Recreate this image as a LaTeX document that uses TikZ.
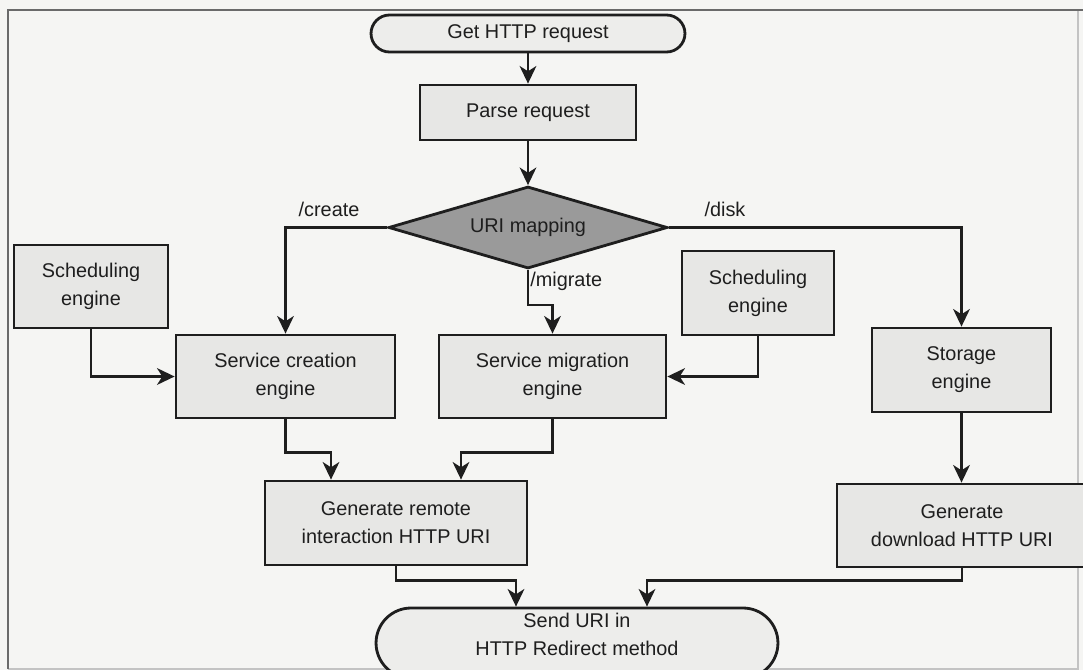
\documentclass[tikz,border=0pt]{standalone}
\usepackage{fontspec}
\setmainfont{Liberation Sans}
\usetikzlibrary{shapes.geometric,shapes.misc,arrows.meta,calc}
\definecolor{bgc}{HTML}{F5F5F3}
\definecolor{boxc}{HTML}{E7E7E5}
\definecolor{diac}{HTML}{9A9A9A}
\definecolor{inkc}{HTML}{1E1E1E}
\definecolor{framec}{HTML}{6A6A6A}
\tikzset{
  every node/.style={text=inkc, font=\fontsize{11.3}{16}\selectfont, align=center},
  procbox/.style={draw=inkc, line width=1.6pt, fill=boxc, inner sep=0pt},
  termbox/.style={draw=inkc, line width=1.6pt, fill=boxc!60!bgc, rounded rectangle, inner sep=0pt},
  decbox/.style={draw=inkc, line width=1.6pt, fill=diac, diamond, inner sep=0pt, aspect=3.4},
  arr/.style={draw=inkc, line width=1.4pt, -{Stealth[length=10pt,width=9.5pt,inset=3pt]}},
  lbl/.style={inner sep=0pt}
}
\begin{document}
\begin{tikzpicture}[x=0.02cm,y=-0.02cm]
\useasboundingbox (0,0) rectangle (1083,670);
\fill[bgc] (0,0) rectangle (1083,670);
% frame
\draw[framec!40, line width=0.6pt] (1078,10) -- (1078,669) -- (8,669);
\draw[framec, line width=1pt] (8,669) -- (8,10) -- (1083,10);

% nodes
\node[termbox, minimum width=6.28cm, minimum height=0.74cm] (get) at (528,33.5) {\raisebox{2pt}{Get HTTP request}};
\node[procbox, minimum width=4.32cm, minimum height=1.10cm] (parse) at (528,112.5) {Parse request};
\node[decbox, minimum width=5.58cm, minimum height=1.64cm] (map) at (528,227.5) {URI mapping};
\node[procbox, minimum width=3.08cm, minimum height=1.66cm] (schedL) at (91,286.5) {Scheduling\\engine};
\node[procbox, minimum width=4.38cm, minimum height=1.66cm] (create) at (285.5,376.5) {Service creation\\engine};
\node[procbox, minimum width=4.54cm, minimum height=1.66cm] (migr) at (552.5,376.5) {Service migration\\engine};
\node[procbox, minimum width=3.04cm, minimum height=1.68cm] (schedR) at (758,293) {Scheduling\\engine};
\node[procbox, minimum width=3.58cm, minimum height=1.68cm] (stor) at (961.5,370) {Storage\\engine};
\node[procbox, minimum width=5.24cm, minimum height=1.68cm] (genR) at (396,523) {Generate remote\\interaction HTTP URI};
\node[procbox, minimum width=5.00cm, minimum height=1.66cm] (genD) at (962,525.5) {Generate\\download HTTP URI};
\node[termbox, minimum width=8.04cm, minimum height=1.40cm] (send) at (577,643) {};
\node[lbl] (sendtxt) at (577,634) {Send URI in\\HTTP Redirect method};

% labels
\node[lbl] (lcreate) at (329,209) {/create};
\node[lbl] (ldisk) at (725,209) {/disk};
\node[lbl, anchor=west] (lmigr) at (530,281) {/migrate};

% connectors
\draw[arr] (get.south) -- (parse.north);
\draw[arr] (parse.south) -- (map.north);
\draw[arr] (map.west) -| (create.north);
\draw[arr] (map.south) -- ++(0,35) -| (migr.north);
\draw[arr] (map.east) -| (stor.north);
\draw[arr] (schedL.south) |- (create.west);
\draw[arr] (schedR.south) |- (migr.east);
\draw[arr] (create.south) -- ++(0,33) -| ($(genR.north)+(-65,0)$);
\draw[arr] (migr.south) -- ++(0,33) -| ($(genR.north)+(65,0)$);
\draw[arr] (stor.south) -- (stor.south |- genD.north);
\draw[arr] (genR.south) -- ++(0,14) -| ($(send.north)+(-61,0)$);
\draw[arr] (genD.south) -- ++(0,12) -| ($(send.north)+(70,0)$);
\end{tikzpicture}
\end{document}
